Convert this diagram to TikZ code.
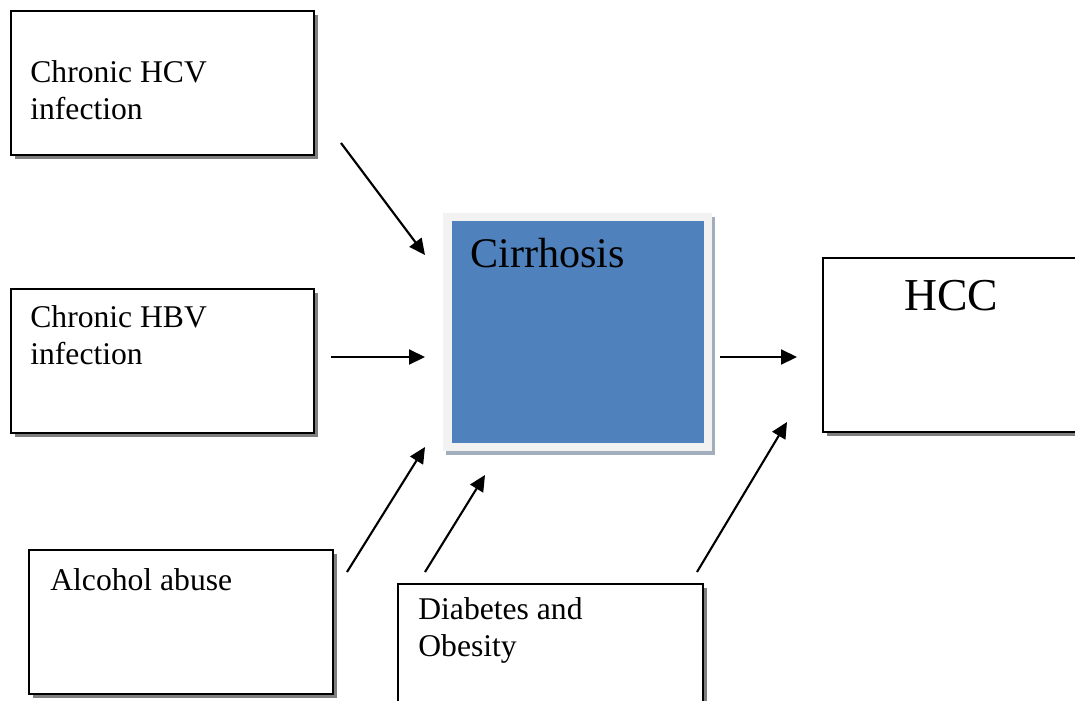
\documentclass[tikz,border=0pt]{standalone}
\usepackage{fontspec}
\setmainfont{Liberation Serif}
\usepackage{tikz}
\usetikzlibrary{positioning,arrows.meta,shadows,calc}
\definecolor{cirrblue}{HTML}{4F81BD}
\definecolor{cirrrim}{HTML}{F2F2F2}
\definecolor{cirrshade}{HTML}{A3AEBD}
\definecolor{boxshade}{HTML}{7F7F7F}

\begin{document}
\begin{tikzpicture}[
  x=0.02cm,y=-0.02cm,
  font=\fontsize{18}{20.5}\selectfont,
  box/.style={draw=black,line width=1.1pt,fill=white,inner sep=0pt,anchor=north west,
    minimum width=6.06cm,minimum height=2.88cm,
    general shadow={fill=boxshade,shadow xshift=0.09cm,shadow yshift=-0.09cm}},
  txt/.style={anchor=base west,inner sep=0pt,align=left},
  arr/.style={-{Triangle[length=0.32cm,width=0.3cm]},line width=1.2pt,draw=black}]
  \clip (0,0) rectangle (1075,700);
  \fill[white] (0,0) rectangle (1075,700);
  % risk factor boxes
  \node[box] (hcv) at (10,10) {};
  \node[box] (hbv) at (10,288) {};
  \node[box,minimum width=6.08cm] (alc) at (28,549) {};
  \node[box,minimum width=6.1cm] (dia) at (397,583) {};
  \node[box,minimum width=6cm,minimum height=3.48cm] (hcc) at (822,257) {};
  % cirrhosis
  \node[fill=cirrrim,inner sep=0pt,anchor=north west,minimum width=5.38cm,minimum height=4.76cm,
    general shadow={fill=cirrshade,shadow xshift=0.06cm,shadow yshift=-0.07cm}] (cirrrim) at (443,213) {};
  \node[fill=cirrblue,inner sep=0pt,minimum width=5.04cm,minimum height=4.44cm] (cirr) at (cirrrim.center) {};

  % base of a two-line node is its last line
  \node[txt] (hcvtxt) at (30,119) {Chronic HCV\\infection};
  \node[txt] (hbvtxt) at (30,364) {Chronic HBV\\infection};
  \node[txt] (alctxt) at (50,590) {Alcohol abuse};
  \node[txt] (diatxt) at (418,656) {Diabetes and\\Obesity};
  \node[txt,font=\fontsize{24}{28}\selectfont] (cirrtxt) at (470,267) {Cirrhosis};
  \node[txt,font=\fontsize{26}{30}\selectfont] (hcctxt) at (904,310) {HCC};

  % arrow ends
  \coordinate (hcvout) at (341,143);
  \coordinate (hcvin) at (425,255);
  \coordinate (hbvout) at (331,357);
  \coordinate (hbvin) at (425,357);
  \coordinate (alcout) at (347,572);
  \coordinate (alcin) at (425,447);
  \coordinate (diaout) at (425,572);
  \coordinate (diain) at (485,475);
  \coordinate (cirrout) at (720,357);
  \coordinate (hccin) at (797,357);
  \coordinate (diaout2) at (697,572);
  \coordinate (hccin2) at (787,422);

  \draw[arr] (hcvout) -- (hcvin);
  \draw[arr] (hbvout) -- (hbvin);
  \draw[arr] (alcout) -- (alcin);
  \draw[arr] (diaout) -- (diain);
  \draw[arr] (cirrout) -- (hccin);
  \draw[arr] (diaout2) -- (hccin2);
\end{tikzpicture}
\end{document}
